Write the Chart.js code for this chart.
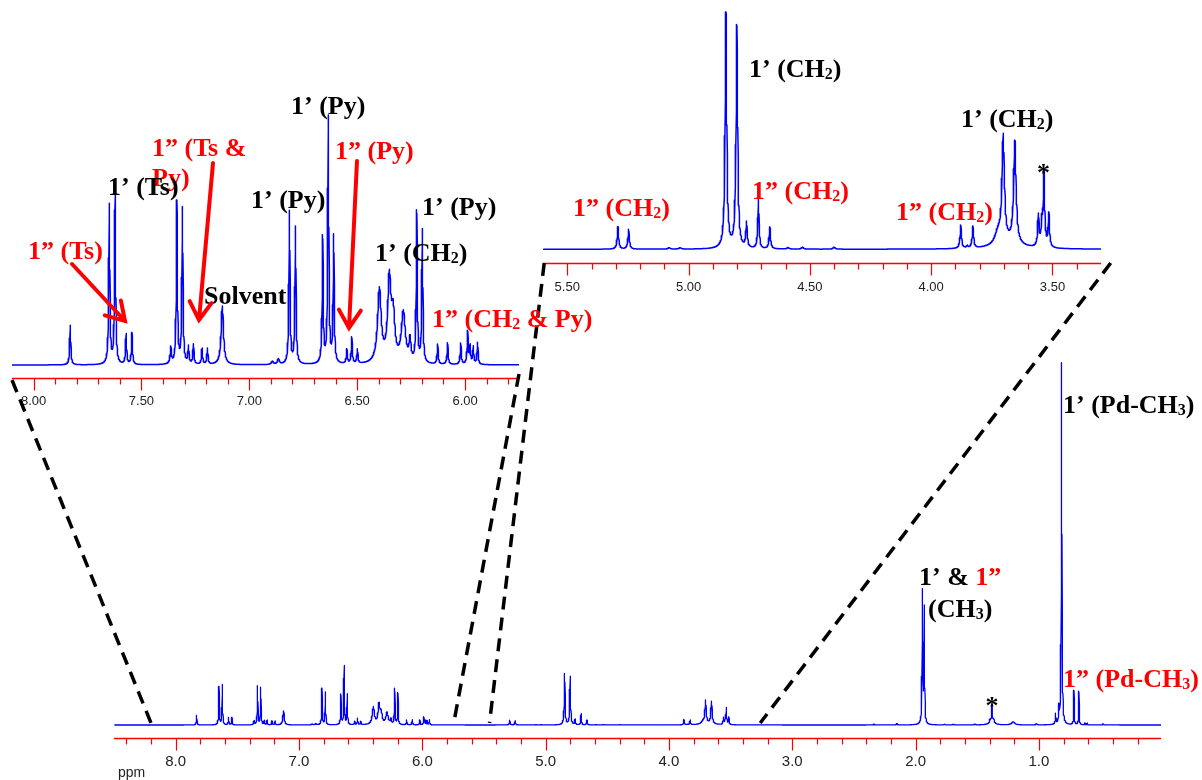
<!DOCTYPE html>
<html>
<head>
<meta charset="utf-8">
<title>1H NMR spectrum</title>
<script src="https://cdn.jsdelivr.net/npm/chart.js@4.4.1/dist/chart.umd.min.js"></script>
<style>
  html, body { margin: 0; padding: 0; background: #fff; }
  #wrap { position: relative; width: 1202px; height: 780px; overflow: hidden; }
  #wrap canvas { position: absolute; left: 0; top: 0; }
</style>
</head>
<body>
<div id="wrap">
  <canvas id="full" width="1202" height="780"></canvas>
  <canvas id="aromatic" width="1202" height="780"></canvas>
  <canvas id="aliphatic" width="1202" height="780"></canvas>
  <canvas id="notes" width="1202" height="780"></canvas>
</div>
<script>
// Peak list of the 1H spectrum: chemical shift (ppm), peak height (a.u.), line width FWHM (ppm)
const peakShift = [
  7.830, 7.649, 7.622, 7.571, 7.544, 7.364, 7.336, 7.310, 7.282, 7.259, 7.219, 7.194, 7.125,
  6.893, 6.865, 6.814, 6.786, 6.660, 6.634, 6.609, 6.548, 6.525, 6.499,
  6.397, 6.351, 6.333, 6.286, 6.255, 6.224, 6.198, 6.127, 6.081, 6.020, 5.988, 5.977, 5.962, 5.942,
  5.291, 5.247, 5.080, 5.035, 4.846, 4.801, 4.761, 4.712, 4.665, 4.590, 4.530, 4.400,
  3.878, 3.851, 3.828, 3.725, 3.703, 3.680, 3.655, 3.558, 3.544, 3.535, 3.515,
  2.337, 2.150, 1.945, 1.930, 1.766, 1.694, 1.519, 1.396, 1.381, 1.380, 1.366, 1.208, 1.020,
  0.865, 0.838, 0.816, 0.716, 0.676, 0.627, 0.609, 0.480
];
const peakHeight = [
  9.45, 38.0, 40.0, 7.2, 7.5, 3.9, 38.7, 37.1, 4.1, 4.7, 3.8, 3.8, 14.0,
  0.8, 1.3, 36.4, 32.6, 30.0, 58.6, 30.2, 3.4, 6.3, 3.4,
  17.5, 19.5, 10.5, 12.0, 5.0, 35.8, 31.6, 4.7, 5.1, 5.0, 7.8, 4.2, 4.1, 5.2,
  4.85, 4.3, 0.3, 0.3, 51.2, 48.4, 5.5, 11.2, 4.7, 0.3, 0.4, 0.4,
  5.1, 0.5, 4.7, 2.5, 23.0, 1.2, 22.2, 6.8, 4.8, 16.2, 7.3,
  0.8, 1.3, 132, 115, 0.7, 0.7, 0.8, 2.5, 13, 6, 2.5, 3, 1.3,
  10.4, 15.0, 362, 34.0, 33.5, 1.8, 1.8, 1.0
];
const peakWidth = [
  0.006, 0.006, 0.006, 0.006, 0.006, 0.007, 0.006, 0.006, 0.006, 0.006, 0.006, 0.006, 0.013,
  0.010, 0.010, 0.006, 0.006, 0.006, 0.006, 0.006, 0.006, 0.006, 0.006,
  0.020, 0.018, 0.018, 0.022, 0.010, 0.006, 0.006, 0.006, 0.006, 0.006, 0.006, 0.006, 0.006, 0.006,
  0.007, 0.007, 0.010, 0.010, 0.008, 0.008, 0.007, 0.006, 0.007, 0.010, 0.010, 0.010,
  0.007, 0.007, 0.007, 0.030, 0.012, 0.120, 0.012, 0.007, 0.007, 0.007, 0.007,
  0.010, 0.010, 0.006, 0.006, 0.010, 0.010, 0.010, 0.006, 0.005, 0.035, 0.006, 0.030, 0.008,
  0.006, 0.006, 0.006, 0.005, 0.005, 0.005, 0.005, 0.008
];

// Axis tick labels (ppm)
const fullTickLabels = ['8.0', '7.0', '6.0', '5.0', '4.0', '3.0', '2.0', '1.0'];
const aromaticTickLabels = ['8.00', '7.50', '7.00', '6.50', '6.00'];
const aliphaticTickLabels = ['5.50', '5.00', '4.50', '4.00', '3.50'];

// Sum of Lorentzian lines at shift x
function lineShape(x) {
  let y = 0;
  for (let i = 0; i < peakShift.length; i++) {
    const d = (x - peakShift[i]) / (peakWidth[i] / 2);
    y += peakHeight[i] / (1 + d * d);
  }
  return y;
}

// Trace of the spectrum between lo and hi ppm, always including the line centres
function trace(lo, hi, n) {
  const xs = [];
  for (let i = 0; i <= n; i++) xs.push(lo + (hi - lo) * i / n);
  peakShift.forEach(p => { if (p > lo && p < hi) xs.push(p); });
  xs.sort((a, b) => a - b);
  return xs.map(x => ({ x: x, y: lineShape(x) }));
}

function spectrumChart(id, xr, yr, pad, samples, lw) {
  return new Chart(document.getElementById(id), {
    type: 'line',
    data: {
      datasets: [{
        data: trace(xr[0], xr[1], samples),
        borderColor: '#0000ff',
        borderWidth: lw,
        borderJoinStyle: 'round',
        pointRadius: 0,
        fill: false,
        tension: 0
      }]
    },
    options: {
      responsive: false,
      animation: false,
      events: [],
      parsing: false,
      normalized: true,
      layout: { padding: pad },
      plugins: { legend: { display: false }, tooltip: { enabled: false } },
      scales: {
        x: { type: 'linear', reverse: true, min: xr[0], max: xr[1], display: false },
        y: { type: 'linear', min: yr[0], max: yr[1], display: false }
      }
    }
  });
}

const fullChart = spectrumChart('full', [0.01, 8.5], [-13, 375],
  { left: 114, right: 41, top: 350, bottom: 42 }, 5000, 1.3);
const aromaticChart = spectrumChart('aromatic', [5.75, 8.1], [-3.1, 63.1],
  { left: 12, right: 683, top: 100, bottom: 402 }, 2000, 1.5);
const aliphaticChart = spectrumChart('aliphatic', [3.3, 5.6], [-2.98, 52.46],
  { left: 543, right: 101, top: 8, bottom: 517 }, 2000, 1.5);

// ---------- axes, connectors and assignments ----------
const ctx = document.getElementById('notes').getContext('2d');
const RED = '#ff0000';
const SERIF = "'Liberation Serif', 'Times New Roman', serif";
const SANS = "'Liberation Sans', Arial, sans-serif";

function drawAxis(chart, labels, step, majorEvery, fontPx, labelGap) {
  const sx = chart.scales.x;
  const a = chart.chartArea;
  const y0 = Math.round(a.bottom) + 0.5;
  ctx.save();
  ctx.strokeStyle = RED;
  ctx.lineWidth = 1.5;
  ctx.beginPath();
  ctx.moveTo(a.left, y0);
  ctx.lineTo(a.right, y0);
  ctx.stroke();
  ctx.lineWidth = 1.2;
  const k0 = Math.ceil(sx.min / step + 1e-6);
  const k1 = Math.floor(sx.max / step - 1e-6);
  for (let k = k0; k <= k1; k++) {
    const px = Math.round(sx.getPixelForValue(k * step)) + 0.5;
    const len = (k % majorEvery === 0) ? 12 : 6;
    ctx.beginPath();
    ctx.moveTo(px, y0);
    ctx.lineTo(px, y0 + len);
    ctx.stroke();
  }
  ctx.fillStyle = '#222';
  ctx.font = fontPx + 'px ' + SANS;
  ctx.textAlign = 'center';
  ctx.textBaseline = 'middle';
  labels.forEach(t => {
    ctx.fillText(t, sx.getPixelForValue(parseFloat(t)), y0 + labelGap);
  });
  ctx.restore();
}

function connector(inset, topPpm, mainPpm, topDy) {
  const x1 = inset.scales.x.getPixelForValue(topPpm);
  const y1 = inset.chartArea.bottom + topDy;
  const x2 = fullChart.scales.x.getPixelForValue(mainPpm);
  const y2 = fullChart.scales.y.getPixelForValue(0) - 2;
  ctx.save();
  ctx.strokeStyle = '#000';
  ctx.lineWidth = 3.5;
  ctx.setLineDash([13, 8]);
  ctx.beginPath();
  ctx.moveTo(x1, y1);
  ctx.lineTo(x2, y2);
  ctx.stroke();
  ctx.restore();
}

function arrow(x1, y1, x2, y2) {
  const ang = Math.atan2(y2 - y1, x2 - x1);
  const L = 21, spread = 0.55;
  ctx.save();
  ctx.strokeStyle = RED;
  ctx.lineWidth = 4;
  ctx.lineCap = 'round';
  ctx.beginPath();
  ctx.moveTo(x1, y1);
  ctx.lineTo(x2, y2);
  ctx.moveTo(x2 - L * Math.cos(ang - spread), y2 - L * Math.sin(ang - spread));
  ctx.lineTo(x2, y2);
  ctx.lineTo(x2 - L * Math.cos(ang + spread), y2 - L * Math.sin(ang + spread));
  ctx.stroke();
  ctx.restore();
}

// parts: [text, colour, isSubscript]
function label(x, yMid, parts, size) {
  size = size || 26;
  const base = yMid + 0.26 * size;
  let cx = x;
  ctx.save();
  ctx.textAlign = 'left';
  ctx.textBaseline = 'alphabetic';
  parts.forEach(p => {
    const sub = p[2];
    const fs = sub ? Math.round(size * 0.62) : size;
    ctx.font = 'bold ' + fs + 'px ' + SERIF;
    ctx.fillStyle = p[1];
    ctx.fillText(p[0], cx, base + (sub ? size * 0.1 : 0));
    cx += ctx.measureText(p[0]).width;
  });
  ctx.restore();
}

const K = '#000';

drawAxis(fullChart, fullTickLabels, 0.2, 5, 15, 23);
drawAxis(aromaticChart, aromaticTickLabels, 0.1, 5, 13, 23);
drawAxis(aliphaticChart, aliphaticTickLabels, 0.1, 5, 13, 24);

ctx.save();
ctx.fillStyle = '#222';
ctx.font = '14px ' + SANS;
ctx.textAlign = 'left';
ctx.textBaseline = 'middle';
ctx.fillText('ppm', 118, 773);
ctx.restore();

connector(aromaticChart, 8.1, 8.2, 2);
connector(aromaticChart, 5.75, 5.745, -4);
connector(aliphaticChart, 5.595, 5.455, 0);
connector(aliphaticChart, 3.26, 3.26, 0);

// aromatic region
label(152, 179, [['Py)', RED]]);
label(108, 188, [['1’ (Ts)', K]]);
label(152, 149, [['1” (Ts &', RED]]);
label(291, 107, [['1’ (Py)', K]]);
label(251, 201, [['1’ (Py)', K]]);
label(335, 152, [['1” (Py)', RED]]);
label(422, 208, [['1’ (Py)', K]]);
label(28, 252, [['1” (Ts)', RED]]);
label(375, 254, [['1’ (CH', K], ['2', K, true], [')', K]]);
label(204, 297, [['Solvent', K]]);
label(432, 320, [['1” (CH', RED], ['2', RED, true], [' & Py)', RED]]);
arrow(72, 264, 125, 321);
arrow(213, 163, 199, 320);
arrow(357, 161, 349, 328);

// CH2 region
label(749, 70, [['1’ (CH', K], ['2', K, true], [')', K]]);
label(573, 209, [['1” (CH', RED], ['2', RED, true], [')', RED]]);
label(752, 192, [['1” (CH', RED], ['2', RED, true], [')', RED]]);
label(896, 213, [['1” (CH', RED], ['2', RED, true], [')', RED]]);
label(961, 120, [['1’ (CH', K], ['2', K, true], [')', K]]);

// full spectrum
label(1063, 406, [['1’ (Pd-CH', K], ['3', K, true], [')', K]]);
label(1063, 680, [['1” (Pd-CH', RED], ['3', RED, true], [')', RED]]);
label(919, 578, [['1’ & ', K], ['1”', RED]]);
label(928, 610, [['(CH', K], ['3', K, true], [')', K]]);

ctx.save();
ctx.fillStyle = '#000';
ctx.font = 'bold 26px ' + SERIF;
ctx.textAlign = 'center';
ctx.textBaseline = 'alphabetic';
ctx.fillText('*', aliphaticChart.scales.x.getPixelForValue(3.537), 181);
ctx.fillText('*', fullChart.scales.x.getPixelForValue(1.381), 714);
ctx.restore();
</script>
</body>
</html>
